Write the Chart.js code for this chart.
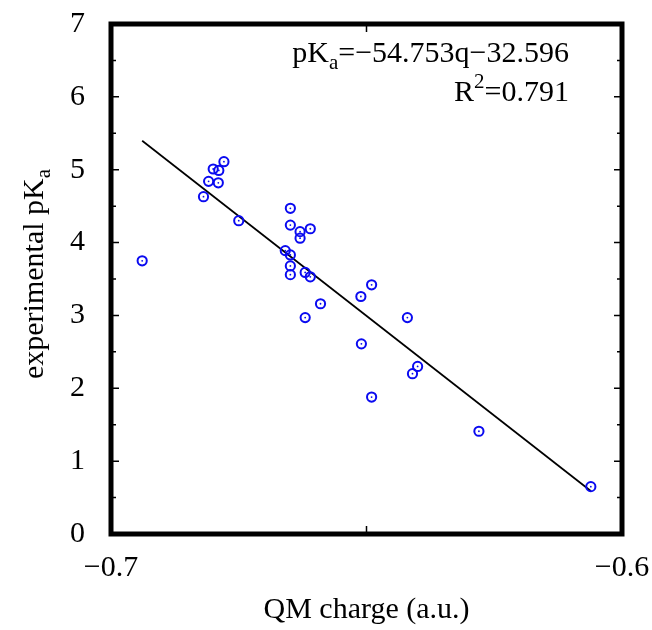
<!DOCTYPE html>
<html>
<head>
<meta charset="utf-8">
<script src="https://cdn.jsdelivr.net/npm/chart.js@4/dist/chart.umd.min.js"></script>
<style>
    html, body { margin: 0; padding: 0; background: #fff; }
    #wrap { width: 652px; height: 630px; }
</style>
</head>
<body>
<div id="wrap"><canvas id="chart" width="652" height="630"></canvas></div>
<script>
// QM charge (a.u.) vs experimental pKa
const charge = [
    -0.6939, -0.6819, -0.6809, -0.6800, -0.6789, -0.6790, -0.6779, -0.6750,
    -0.6649, -0.6649, -0.6630, -0.6630, -0.6610, -0.6659, -0.6649, -0.6649,
    -0.6649, -0.6620, -0.6610, -0.6590, -0.6620, -0.6511, -0.6490, -0.6510,
    -0.6490, -0.6420, -0.6410, -0.6400, -0.6280, -0.6061
];
const pKa = [
    3.75, 4.63, 4.84, 5.01, 4.99, 4.82, 5.11, 4.30,
    4.47, 4.24, 4.15, 4.06, 4.19, 3.89, 3.83, 3.68,
    3.56, 3.59, 3.53, 3.16, 2.97, 3.26, 3.42, 2.61,
    1.88, 2.97, 2.20, 2.30, 1.41, 0.65
];
const slope = -54.753;
const intercept = -32.596;
const r2 = 0.791;

const xTicks = [-0.7, -0.65, -0.6];
const yTicks = [0, 1, 2, 3, 4, 5, 6, 7];

const FONT = '"Liberation Serif", "DejaVu Serif", serif';
const BLUE = '#0a0af0';

const points = charge.map((q, i) => ({x: q, y: pKa[i]}));
const qMin = Math.min(...charge);
const qMax = Math.max(...charge);
const fitLine = [qMin, qMax].map(q => ({x: q, y: slope * q + intercept}));

const fmt = v => (v < 0 ? '\u2212' : '') + Math.abs(v);

// frame, inward ticks, centre dots, annotation and y title
const decorations = {
    id: 'decorations',
    afterDatasetsDraw(chart) {
        const ctx = chart.ctx;
        const {left, right, top, bottom} = chart.chartArea;
        const xs = chart.scales.x, ys = chart.scales.y;

        // dots in the middle of the circles
        ctx.save();
        ctx.fillStyle = BLUE;
        chart.getDatasetMeta(0).data.forEach(pt => {
            ctx.beginPath();
            ctx.arc(pt.x, pt.y, 0.9, 0, Math.PI * 2);
            ctx.fill();
        });
        ctx.restore();

        ctx.save();
        ctx.strokeStyle = '#000';
        ctx.lineWidth = 1.5;
        ctx.beginPath();
        for (let v = 0; v <= 7.001; v += 0.5) {
            const y = ys.getPixelForValue(v);
            const len = (Math.abs(v - Math.round(v)) < 0.01) ? 8 : 5;
            ctx.moveTo(left, y); ctx.lineTo(left + len, y);
            ctx.moveTo(right, y); ctx.lineTo(right - len, y);
        }
        xTicks.forEach(v => {
            const x = xs.getPixelForValue(v);
            ctx.moveTo(x, bottom); ctx.lineTo(x, bottom - 8);
            ctx.moveTo(x, top); ctx.lineTo(x, top + 8);
        });
        ctx.stroke();

        ctx.lineWidth = 5;
        ctx.strokeRect(left, top, right - left, bottom - top);
        ctx.restore();

        // fit equation
        ctx.save();
        ctx.fillStyle = '#000';
        ctx.textBaseline = 'alphabetic';
        const big = '30px ' + FONT, small = '21px ' + FONT;
        const xr = right - 53;
        ctx.font = big;
        const partA = 'pK', partC = '=\u221254.753q\u221232.596';
        const wA = ctx.measureText(partA).width, wC = ctx.measureText(partC).width;
        ctx.font = small;
        const wB = ctx.measureText('a').width;
        let x0 = xr - wA - wB - wC;
        ctx.font = big;
        ctx.fillText(partA, x0, top + 38);
        ctx.font = small;
        ctx.fillText('a', x0 + wA, top + 45);
        ctx.font = big;
        ctx.fillText(partC, x0 + wA + wB, top + 38);

        const rC = '=' + r2;
        const wR = ctx.measureText('R').width, wRC = ctx.measureText(rC).width;
        ctx.font = small;
        const w2 = ctx.measureText('2').width;
        x0 = xr - wR - w2 - wRC;
        ctx.font = big;
        ctx.fillText('R', x0, top + 77);
        ctx.font = small;
        ctx.fillText('2', x0 + wR, top + 64);
        ctx.font = big;
        ctx.fillText(rC, x0 + wR + w2, top + 77);
        ctx.restore();

        // y axis title with subscript
        ctx.save();
        ctx.fillStyle = '#000';
        ctx.translate(43, 274);
        ctx.rotate(-Math.PI / 2);
        ctx.font = big;
        const main = 'experimental pK';
        const wM = ctx.measureText(main).width;
        ctx.font = small;
        const wS = ctx.measureText('a').width;
        const sx = -(wM + wS) / 2;
        ctx.font = big;
        ctx.fillText(main, sx, 0);
        ctx.font = small;
        ctx.fillText('a', sx + wM, 7);
        ctx.restore();
    }
};

new Chart(document.getElementById('chart'), {
    type: 'scatter',
    data: {
        datasets: [{
            data: points,
            pointStyle: 'circle',
            pointRadius: 4.6,
            pointHoverRadius: 4.6,
            pointBorderWidth: 2,
            pointBorderColor: BLUE,
            pointBackgroundColor: 'rgba(0,0,0,0)'
        }, {
            type: 'line',
            data: fitLine,
            borderColor: '#000',
            borderWidth: 1.7,
            pointRadius: 0,
            fill: false
        }]
    },
    options: {
        responsive: false,
        animation: false,
        layout: {padding: {top: 24, right: 30, left: 0, bottom: 0}},
        plugins: {legend: {display: false}, tooltip: {enabled: false}},
        scales: {
            x: {
                type: 'linear',
                min: -0.7,
                max: -0.6,
                afterBuildTicks: scale => { scale.ticks = xTicks.map(v => ({value: v})); },
                afterFit: scale => {
                    scale.height = 96;
                    scale.paddingLeft = 0;
                    scale.paddingRight = 0;
                },
                grid: {display: false},
                border: {display: false},
                ticks: {
                    padding: 8,
                    maxRotation: 0,
                    color: '#000',
                    font: {family: FONT, size: 30},
                    callback: v => (Math.abs(v + 0.65) < 1e-6 ? '' : fmt(Math.round(v * 10) / 10))
                },
                title: {
                    display: true,
                    text: 'QM charge (a.u.)',
                    color: '#000',
                    font: {family: FONT, size: 30},
                    padding: {top: 0, bottom: 2}
                }
            },
            y: {
                type: 'linear',
                min: 0,
                max: 7,
                afterBuildTicks: scale => { scale.ticks = yTicks.map(v => ({value: v})); },
                afterFit: scale => {
                    scale.width = 111;
                    scale.paddingTop = 0;
                    scale.paddingBottom = 0;
                },
                grid: {display: false},
                border: {display: false},
                ticks: {
                    padding: 18,
                    color: '#000',
                    font: {family: FONT, size: 30},
                    callback: v => String(v)
                }
            }
        }
    },
    plugins: [decorations]
});
</script>
</body>
</html>
